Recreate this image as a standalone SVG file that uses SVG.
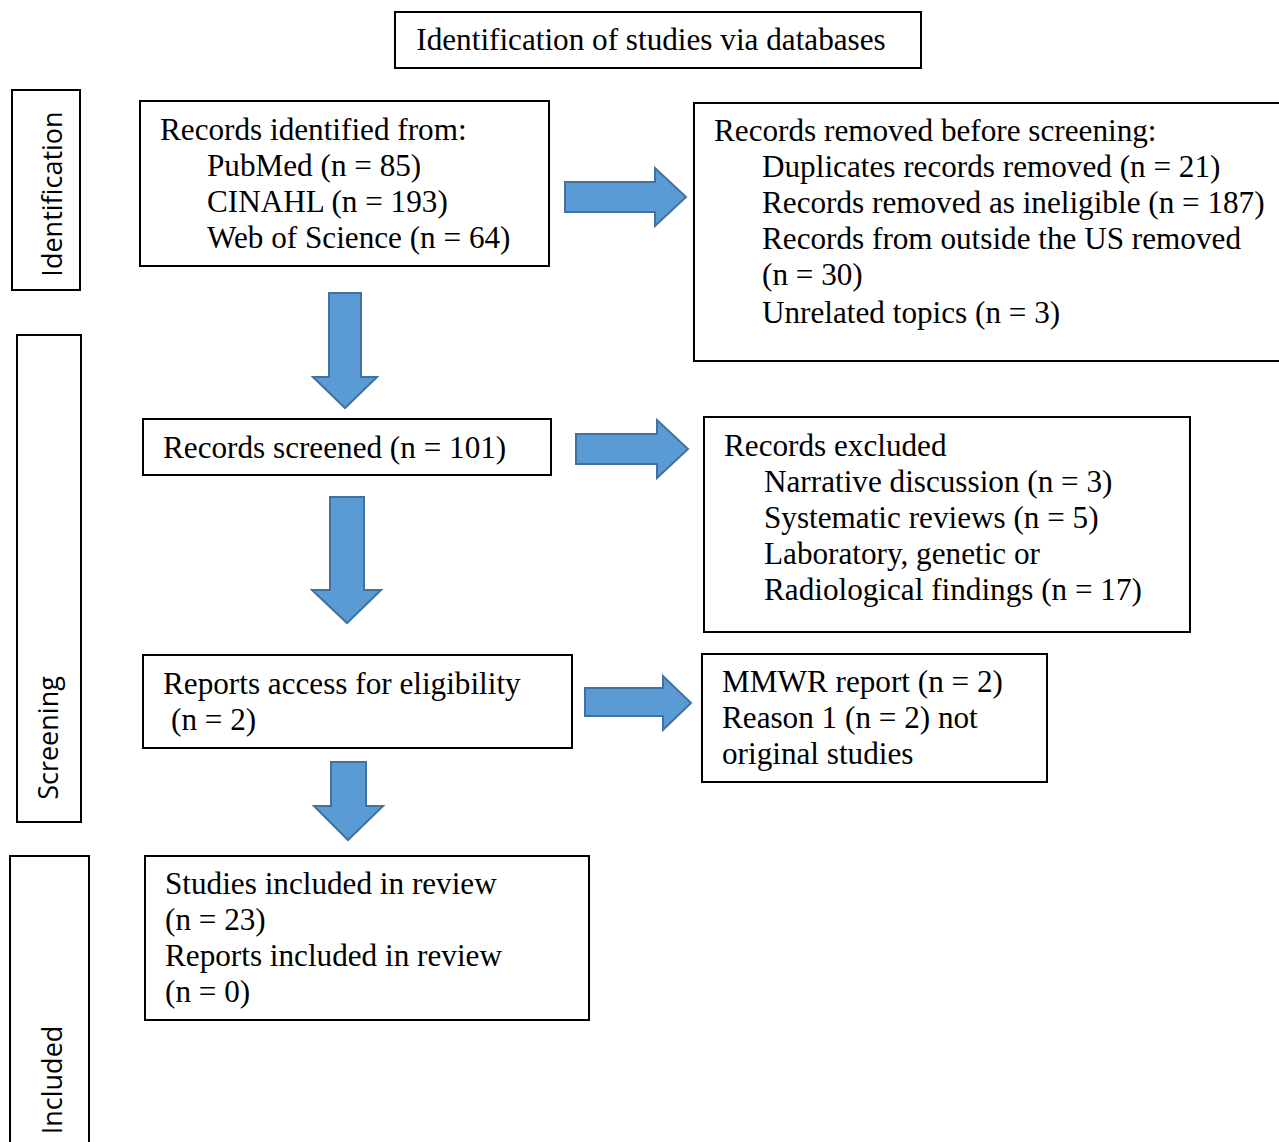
<svg xmlns="http://www.w3.org/2000/svg" width="1279" height="1142" viewBox="0 0 1279 1142">
<style>
.box{fill:#fff;stroke:#000;stroke-width:2}
.t{font-family:"Liberation Serif","Times New Roman",serif;font-size:31.2px;fill:#000}
.s{font-family:"Open Sans","Noto Sans",sans-serif;font-size:27px;fill:#000;text-anchor:middle}
.arr{fill:#5b9bd5;stroke:#41719c;stroke-width:2;stroke-linejoin:miter}
</style>
<rect width="1279" height="1142" fill="#fff"/>
<g id="title"><rect class="box" x="395" y="12" width="526" height="56"/><text class="t" x="651" y="50" text-anchor="middle">Identification of studies via databases</text></g>
<g id="lbl-identification"><rect class="box" x="12" y="90" width="68" height="200"/><text class="s" transform="translate(62,194) rotate(-90)">Identification</text></g>
<g id="lbl-screening"><rect class="box" x="17" y="335" width="64" height="487"/><text class="s" transform="translate(58,738) rotate(-90)">Screening</text></g>
<g id="lbl-included"><rect class="box" x="10" y="856" width="79" height="296"/><text class="s" transform="translate(62,1080) rotate(-90)">Included</text></g>
<g id="identified"><rect class="box" x="140" y="101" width="409" height="165"/>
<text class="t" x="160" y="140">Records identified from:</text>
<text class="t" x="207" y="176">PubMed (n = 85)</text>
<text class="t" x="207" y="212">CINAHL (n = 193)</text>
<text class="t" x="207" y="248">Web of Science (n = 64)</text></g>
<g id="removed"><rect class="box" x="694" y="103" width="600" height="258"/>
<text class="t" x="714" y="141">Records removed before screening:</text>
<text class="t" x="762" y="177">Duplicates records removed (n = 21)</text>
<text class="t" x="762" y="213">Records removed as ineligible (n = 187)</text>
<text class="t" x="762" y="249">Records from outside the US removed</text>
<text class="t" x="762" y="285">(n = 30)</text>
<text class="t" x="762" y="323">Unrelated topics (n = 3)</text></g>
<g id="screened"><rect class="box" x="143" y="419" width="408" height="56"/><text class="t" x="163" y="458">Records screened (n = 101)</text></g>
<g id="excluded"><rect class="box" x="704" y="417" width="486" height="215"/>
<text class="t" x="724" y="456">Records excluded</text>
<text class="t" x="764" y="492">Narrative discussion (n = 3)</text>
<text class="t" x="764" y="528">Systematic reviews (n = 5)</text>
<text class="t" x="764" y="564">Laboratory, genetic or</text>
<text class="t" x="764" y="600">Radiological findings (n = 17)</text></g>
<g id="reports"><rect class="box" x="143" y="655" width="429" height="93"/>
<text class="t" x="163" y="694">Reports access for eligibility</text>
<text class="t" x="171" y="730">(n = 2)</text></g>
<g id="mmwr"><rect class="box" x="702" y="654" width="345" height="128"/>
<text class="t" x="722" y="692">MMWR report (n = 2)</text>
<text class="t" x="722" y="728">Reason 1 (n = 2) not</text>
<text class="t" x="722" y="764">original studies</text></g>
<g id="included"><rect class="box" x="145" y="856" width="444" height="164"/>
<text class="t" x="165" y="894">Studies included in review</text>
<text class="t" x="165" y="930">(n = 23)</text>
<text class="t" x="165" y="966">Reports included in review</text>
<text class="t" x="165" y="1002">(n = 0)</text></g>
<g id="connectors">
<polygon class="arr" points="565,182 655,182 655,168 686,197 655,226 655,212 565,212"/>
<polygon class="arr" points="329,293 361,293 361,377 377,377 345,408 313,377 329,377"/>
<polygon class="arr" points="576,434 657,434 657,420 688,449 657,478 657,464 576,464"/>
<polygon class="arr" points="330,497 364,497 364,590 381,590 347,623 312,590 330,590"/>
<polygon class="arr" points="585,688 663,688 663,676 691,703 663,730 663,716 585,716"/>
<polygon class="arr" points="331,762 366,762 366,806 383,806 348,840 314,806 331,806"/>
</g>
</svg>
